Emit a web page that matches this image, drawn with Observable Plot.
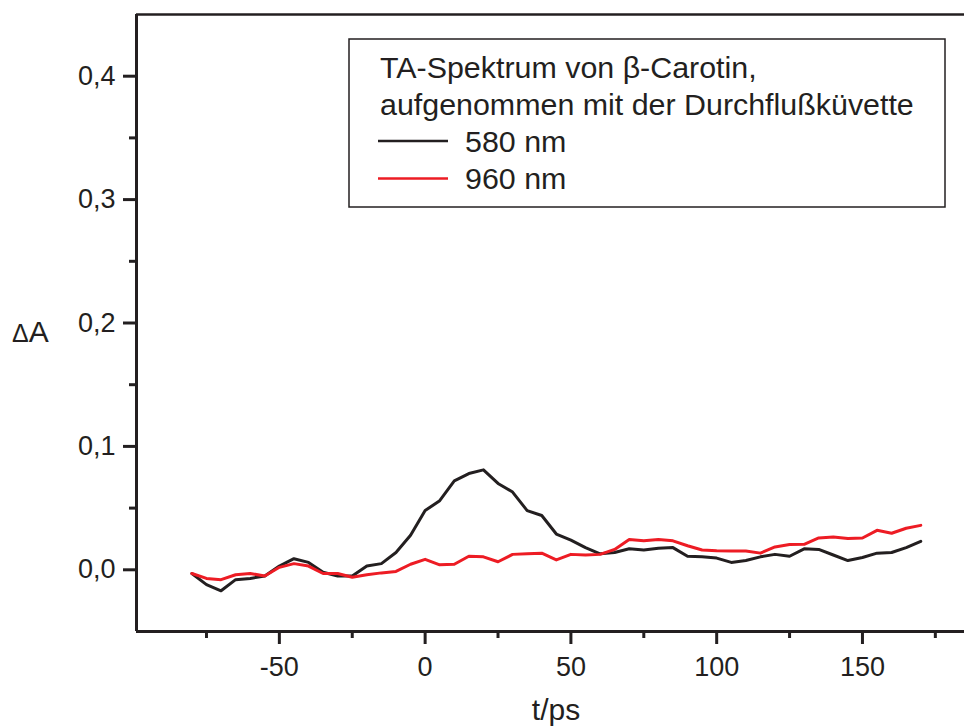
<!DOCTYPE html>
<html>
<head>
<meta charset="utf-8">
<script src="https://cdn.jsdelivr.net/npm/d3@7"></script>
<script src="https://cdn.jsdelivr.net/npm/@observablehq/plot@0.6"></script>
<style>
  body { margin: 0; background: #fff; }
  #chart { position: relative; width: 964px; height: 726px; }
</style>
</head>
<body>
<div id="chart"></div>
<script>
// Delay times (ps) and transient absorption ΔA at two probe wavelengths
const delay = [-80, -75, -70, -65, -60, -55, -50, -45, -40, -35, -30, -25, -20, -15, -10, -5,
  0, 5, 10, 15, 20, 25, 30, 35, 40, 45, 50, 55, 60, 65, 70, 75, 80, 85, 90, 95,
  100, 105, 110, 115, 120, 125, 130, 135, 140, 145, 150, 155, 160, 165, 170];

const dA580 = [-0.003, -0.012, -0.017, -0.008, -0.007, -0.005, 0.003, 0.009, 0.006, -0.002, -0.005, -0.005, 0.003, 0.005, 0.014, 0.028,
  0.048, 0.056, 0.072, 0.078, 0.081, 0.070, 0.063, 0.048, 0.044, 0.029, 0.024, 0.018, 0.013, 0.014, 0.017, 0.016, 0.0175, 0.018, 0.011, 0.0105,
  0.0095, 0.006, 0.0075, 0.0105, 0.0125, 0.011, 0.017, 0.0165, 0.012, 0.0075, 0.010, 0.0135, 0.014, 0.018, 0.023];

const dA960 = [-0.003, -0.007, -0.008, -0.004, -0.003, -0.005, 0.002, 0.005, 0.003, -0.003, -0.003, -0.006, -0.004, -0.0025, -0.0013, 0.0045,
  0.0085, 0.004, 0.0045, 0.011, 0.0105, 0.0065, 0.0125, 0.013, 0.0135, 0.008, 0.0125, 0.012, 0.0125, 0.0165, 0.0245, 0.0235, 0.0245, 0.0235, 0.0195, 0.016,
  0.0155, 0.0153, 0.0153, 0.0135, 0.0185, 0.0205, 0.0207, 0.0258, 0.0266, 0.0253, 0.0258, 0.032, 0.0296, 0.0337, 0.036];

const seriesNames = ["580 nm", "960 nm"];
const seriesColors = ["#231f20", "#ed1c24"];
const legendTitle = ["TA-Spektrum von β-Carotin,", "aufgenommen mit der Durchflußküvette"];

const xMajor = [-50, 0, 50, 100, 150];
const xMinor = [-75, -25, 25, 75, 125, 175];
const yMajor = [0, 0.1, 0.2, 0.3, 0.4];
const yMinor = [0.05, 0.15, 0.25, 0.35];
const xDomain = [-99, 185];
const yDomain = [-0.05, 0.45];

const ink = "#231f20";
const font = "'Liberation Sans', Arial, Helvetica, sans-serif";

const rows580 = delay.map((t, i) => ({t, dA: dA580[i]}));
const rows960 = delay.map((t, i) => ({t, dA: dA960[i]}));

const commaFmt = d => d.toFixed(1).replace(".", ",");

const svg = Plot.plot({
  width: 964,
  height: 726,
  marginLeft: 136,
  marginRight: 0,
  marginTop: 14,
  marginBottom: 95,
  style: {fontFamily: font, fontSize: "27px", color: ink, background: "#fff", overflow: "visible"},
  x: {domain: xDomain},
  y: {domain: yDomain},
  marks: [
    // frame: left, bottom and top edges
    Plot.ruleX([xDomain[0]], {stroke: ink, strokeWidth: 3}),
    Plot.ruleY([yDomain[0]], {stroke: ink, strokeWidth: 3}),
    Plot.ruleY([yDomain[1]], {stroke: ink, strokeWidth: 2.5}),
    // axes with major and minor ticks
    Plot.axisY(yMajor, {tickSize: 13, tickPadding: 8, tickFormat: commaFmt, strokeWidth: 3, label: null, fontSize: 27}),
    Plot.axisY(yMinor, {tickSize: 7, tickFormat: () => "", strokeWidth: 3, label: null}),
    Plot.axisX(xMajor, {tickSize: 13, tickPadding: 12, tickFormat: d => String(d), strokeWidth: 3, label: null, fontSize: 27}),
    Plot.axisX(xMinor, {tickSize: 7, tickFormat: () => "", strokeWidth: 3, label: null}),
    // data
    Plot.line(rows580, {x: "t", y: "dA", stroke: seriesColors[0], strokeWidth: 3}),
    Plot.line(rows960, {x: "t", y: "dA", stroke: seriesColors[1], strokeWidth: 3})
  ]
});

document.getElementById("chart").appendChild(svg);

const s = d3.select(svg);

// axis titles
const yTitle = s.append("text").attr("x", 12).attr("y", 342).attr("text-anchor", "start")
  .attr("font-family", font).attr("fill", ink);
yTitle.append("tspan").attr("font-size", 25).attr("font-weight", 300).text("Δ");
yTitle.append("tspan").attr("font-size", 30).text("A");

s.append("text").attr("x", 556).attr("y", 720).attr("text-anchor", "middle")
  .attr("font-family", font).attr("font-size", 30).attr("fill", ink).text("t/ps");

// legend box
const lg = s.append("g").attr("font-family", font).attr("font-size", 30.4).attr("fill", ink)
  .attr("text-anchor", "start");
lg.append("rect").attr("x", 349).attr("y", 39).attr("width", 596).attr("height", 168)
  .attr("fill", "#fff").attr("stroke", ink).attr("stroke-width", 1.5);
legendTitle.forEach((line, i) => {
  lg.append("text").attr("x", 380).attr("y", 78 + i * 37.3).text(line);
});
seriesNames.forEach((name, i) => {
  const cy = 141 + i * 37.5;
  lg.append("line").attr("x1", 378).attr("x2", 448).attr("y1", cy).attr("y2", cy)
    .attr("stroke", seriesColors[i]).attr("stroke-width", 2.5);
  lg.append("text").attr("x", 465).attr("y", cy + 10.5).text(name);
});
</script>
</body>
</html>
